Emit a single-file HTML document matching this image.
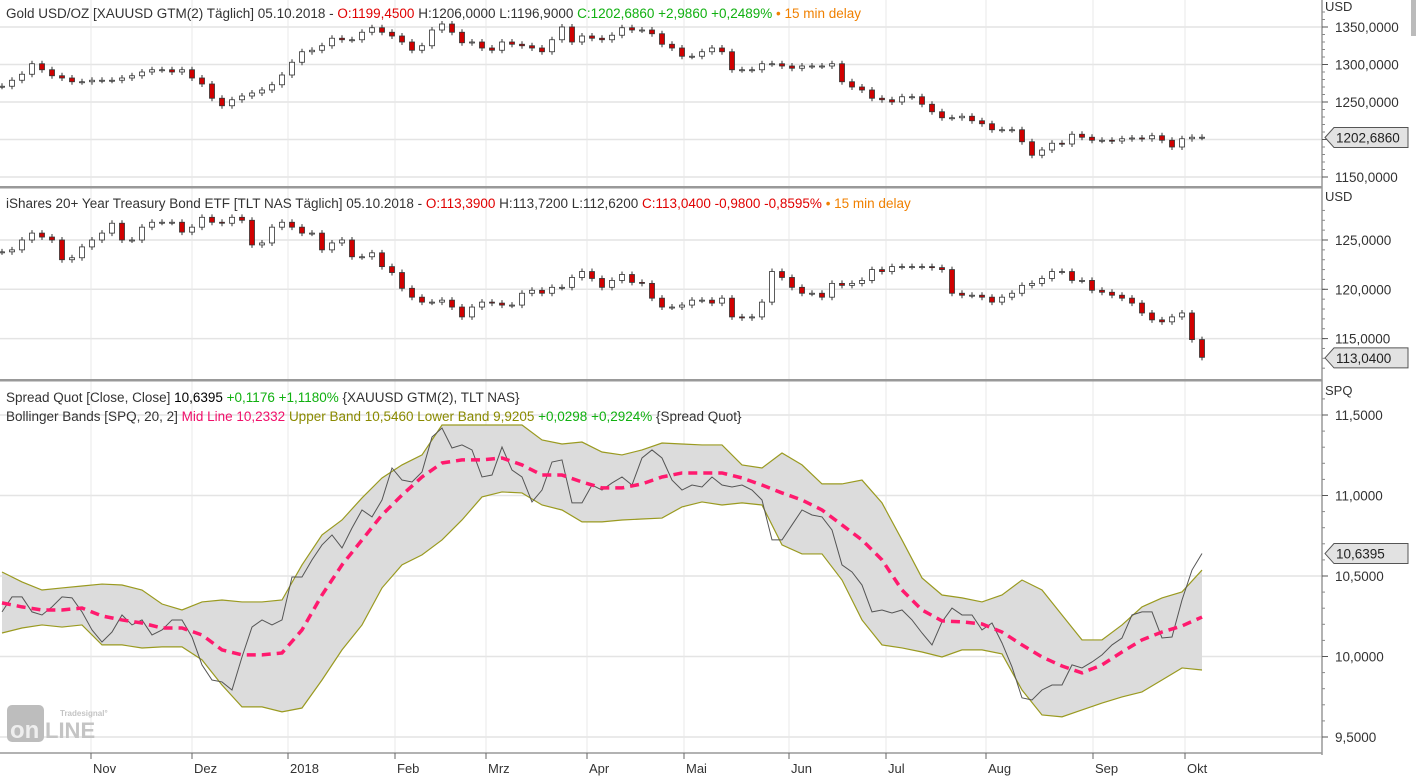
<!DOCTYPE html>
<html><head><meta charset="utf-8">
<style>
html,body{margin:0;padding:0;background:#fff;width:1416px;height:776px;overflow:hidden}
svg{display:block;font-family:"Liberation Sans",Arial,sans-serif}
</style></head>
<body>
<svg id="chart" width="1416" height="776" viewBox="0 0 1416 776" xmlns="http://www.w3.org/2000/svg">
<rect x="0" y="0" width="1416" height="776" fill="#fff"/>
<g id="grid"></g>
<g id="marks"></g>
<g id="axes"></g>
<g font-size="13.5">
<text x="6" y="18"><tspan fill="#333">Gold USD/OZ [XAUUSD GTM(2) Täglich] 05.10.2018 - </tspan><tspan fill="#e00000">O:1199,4500</tspan><tspan fill="#333"> H:1206,0000 L:1196,9000 </tspan><tspan fill="#10b010">C:1202,6860 +2,9860 +0,2489%</tspan><tspan fill="#f08000"> • 15 min delay</tspan></text>
</g>
<g font-size="13.5">
<text x="6" y="208"><tspan fill="#333">iShares 20+ Year Treasury Bond ETF [TLT NAS Täglich] 05.10.2018 - </tspan><tspan fill="#e00000">O:113,3900</tspan><tspan fill="#333"> H:113,7200 L:112,6200 </tspan><tspan fill="#e00000">C:113,0400 -0,9800 -0,8595%</tspan><tspan fill="#f08000"> • 15 min delay</tspan></text>
</g>
<g font-size="13.5">
<text x="6" y="402"><tspan fill="#333">Spread Quot [Close, Close] </tspan><tspan fill="#000">10,6395 </tspan><tspan fill="#10b010">+0,1176 +1,1180% </tspan><tspan fill="#333">{XAUUSD GTM(2), TLT NAS}</tspan></text>
<text x="6" y="421"><tspan fill="#333">Bollinger Bands [SPQ, 20, 2] </tspan><tspan fill="#f0106a">Mid Line 10,2332 </tspan><tspan fill="#8a8a00">Upper Band 10,5460 Lower Band 9,9205 </tspan><tspan fill="#10b010">+0,0298 +0,2924% </tspan><tspan fill="#333">{Spread Quot}</tspan></text>
</g>
<g>
<rect x="7" y="705" width="37" height="37" rx="5" fill="#bdbdbd"/>
<text x="10" y="738" font-size="24" font-weight="bold" fill="#eee">on</text>
<text x="45" y="738" font-size="22" font-weight="bold" fill="#c4c4c4">LINE</text>
<text x="60" y="716" font-size="8" font-weight="bold" fill="#c4c4c4">Tradesignal°</text>
</g>
<rect x="1411" y="0" width="5" height="36" fill="#bbb"/>
</svg>
<script>
// ---- data ----
const goldClose=[1271,1279,1287,1301,1293,1285,1282,1277,1277,1279,1279,1279,1282,1285,1290,1293,1293,1290,1293,1282,1274,1255,1245,1253,1258,1262,1266,1273,1286,1303,1317,1319,1325,1335,1333,1333,1343,1349,1343,1338,1330,1319,1325,1346,1354,1343,1329,1330,1322,1319,1330,1327,1325,1322,1317,1333,1350,1330,1338,1335,1333,1339,1349,1346,1346,1341,1327,1322,1311,1311,1317,1322,1317,1293,1293,1293,1301,1301,1298,1295,1298,1298,1298,1301,1277,1270,1266,1255,1253,1250,1257,1257,1247,1237,1229,1229,1231,1225,1221,1213,1213,1213,1197,1179,1186,1195,1194,1207,1203,1199,1199,1198,1201,1202,1201,1205,1199,1190,1201,1203,1203];
const tltClose=[123.8,124.0,125.0,125.7,125.3,125.0,123.0,123.2,124.3,125.0,125.7,126.7,125.0,125.0,126.3,126.8,126.8,126.8,125.8,126.3,127.3,126.8,126.7,127.3,127.0,124.5,124.7,126.3,126.8,126.3,125.7,125.7,124.0,124.7,125.0,123.3,123.3,123.7,122.3,121.7,120.1,119.2,118.7,118.7,118.9,118.2,117.2,118.2,118.7,118.6,118.4,118.4,119.6,119.9,119.6,120.2,120.2,121.2,121.8,121.1,120.2,120.9,121.5,120.7,120.6,119.1,118.2,118.2,118.4,118.9,118.9,118.6,119.1,117.2,117.1,117.2,118.7,121.8,121.2,120.2,119.6,119.6,119.2,120.6,120.4,120.6,120.9,122.0,121.8,122.3,122.3,122.3,122.3,122.2,122.0,119.6,119.4,119.4,119.2,118.7,119.2,119.6,120.4,120.6,121.1,121.8,121.8,120.9,120.9,119.9,119.7,119.4,119.1,118.6,117.6,116.9,116.7,117.2,117.6,114.9,113.1];
const spread=[10.277,10.370,10.370,10.277,10.258,10.308,10.370,10.364,10.277,10.165,10.090,10.152,10.258,10.196,10.227,10.134,10.165,10.227,10.227,10.121,9.948,9.854,9.842,9.792,9.997,10.183,10.227,10.196,10.227,10.494,10.494,10.600,10.693,10.755,10.674,10.798,10.910,10.867,10.972,11.171,11.096,11.084,11.146,11.363,11.419,11.295,11.314,11.283,11.115,11.127,11.301,11.158,11.115,10.960,11.034,11.208,11.221,10.954,10.954,11.065,11.034,11.078,11.115,11.065,11.233,11.283,11.233,11.096,11.034,11.065,11.053,11.115,11.065,11.053,11.065,11.034,10.972,10.724,10.724,10.817,10.910,10.879,10.867,10.786,10.569,10.525,10.444,10.277,10.289,10.270,10.289,10.227,10.146,10.072,10.215,10.301,10.258,10.258,10.165,10.208,10.084,9.935,9.743,9.730,9.792,9.823,9.823,9.948,9.929,9.966,10.010,10.072,10.115,10.258,10.277,10.277,10.115,10.121,10.351,10.537,10.640];
const upperBand=[10.525,10.463,10.413,10.426,10.438,10.450,10.444,10.413,10.326,10.289,10.339,10.351,10.339,10.339,10.351,10.569,10.755,10.848,10.985,11.109,11.190,11.252,11.438,11.438,11.438,11.438,11.438,11.345,11.320,11.332,11.270,11.252,11.283,11.326,11.320,11.314,11.314,11.190,11.171,11.264,11.190,11.072,11.072,11.096,10.954,10.724,10.488,10.382,10.364,10.339,10.382,10.475,10.413,10.258,10.103,10.103,10.196,10.308,10.364,10.401,10.537];
const lowerBand=[10.146,10.177,10.196,10.183,10.196,10.072,10.072,10.053,10.060,10.060,9.979,9.823,9.687,9.687,9.656,9.680,9.854,10.041,10.196,10.426,10.569,10.631,10.724,10.848,10.991,11.022,11.016,10.941,10.910,10.836,10.836,10.848,10.854,10.860,10.929,10.960,10.941,10.954,10.941,10.693,10.637,10.637,10.475,10.227,10.072,10.053,10.028,9.997,10.041,10.041,10.016,9.792,9.637,9.625,9.668,9.711,9.749,9.780,9.854,9.929,9.916];
const midLine=[10.333,10.308,10.289,10.289,10.301,10.252,10.227,10.208,10.177,10.177,10.134,10.041,10.010,10.010,10.022,10.165,10.382,10.569,10.724,10.879,11.003,11.115,11.202,11.221,11.221,11.233,11.190,11.127,11.127,11.084,11.047,11.047,11.072,11.115,11.140,11.140,11.140,11.109,11.065,11.016,10.972,10.910,10.817,10.724,10.600,10.413,10.289,10.221,10.215,10.202,10.152,10.072,9.997,9.941,9.898,9.948,10.028,10.103,10.152,10.190,10.245];
const monthLabels=["Nov","Dez","2018","Feb","Mrz","Apr","Mai","Jun","Jul","Aug","Sep","Okt"];
const monthStartIdx=[8.9,19.0,28.6,39.3,48.4,58.5,68.2,78.7,88.4,98.4,109.1,118.3];
const goldTicks=[1350,1300,1250,1200,1150];
const goldTickLabels=["1350,0000","1300,0000","1250,0000","","1150,0000"];
const tltTicks=[125,120,115];
const tltTickLabels=["125,0000","120,0000","115,0000"];
const spqTicks=[11.5,11.0,10.5,10.0,9.5];
const spqTickLabels=["11,5000","11,0000","10,5000","10,0000","9,5000"];
const lastGold="1202,6860", lastTlt="113,0400", lastSpq="10,6395";
const lastGoldVal=1202.686, lastTltVal=113.04, lastSpqVal=10.6395;

// ---- scales ----
const NS="http://www.w3.org/2000/svg";
const plotR=1322;
const xIdx=i=>2+i*10;
const xBand=i=>2+i*20;
const yGold=p=>27+(1350-p)*0.75;
const yTlt=p=>240+(125-p)*9.86;
const ySpq=p=>415+(11.5-p)*161;
function mk(tag,attrs,parent){const e=document.createElementNS(NS,tag);for(const k in attrs)e.setAttribute(k,attrs[k]);parent.appendChild(e);return e;}
const grid=document.getElementById('grid'),marks=document.getElementById('marks'),axes=document.getElementById('axes');

// ---- grid ----
function hgrid(ticks,ys,top,bot){ticks.forEach(t=>{const y=ys(t);if(y>top&&y<bot){const l=mk('line',{x1:0,x2:plotR,y1:y,y2:y,stroke:'#e4e4e4','stroke-width':1.5},grid);

}});}
hgrid(goldTicks,yGold,0,186);hgrid(tltTicks,yTlt,188,379);hgrid(spqTicks,ySpq,381,753);
monthStartIdx.forEach(m=>{const x=xIdx(m);const l=mk('line',{x1:x,x2:x,y1:0,y2:753,stroke:'#e8e8e8','stroke-width':1},grid);

});

// ---- candles ----
function candles(close,ys,name){
  for(let i=0;i<close.length;i++){
    const o=i>0?close[i-1]:close[i],c=close[i];const x=xIdx(i);
    const yo=ys(o),yc=ys(c);const top=Math.min(yo,yc),bot=Math.max(yo,yc);
    const g=mk('g',{},marks);
    
    
    mk('line',{x1:x,x2:x,y1:top-3,y2:bot+3,stroke:'#333','stroke-width':1},g);
    mk('rect',{x:x-2.5,y:top,width:5,height:Math.max(1,bot-top),fill:c<o?'#d00000':'#fff',stroke:'#333','stroke-width':0.8},g);
  }
}
candles(goldClose,yGold,'gold');
candles(tltClose,yTlt,'tlt');

// ---- bollinger ----
let up=upperBand.map((v,i)=>xBand(i)+','+ySpq(v));
let lo=lowerBand.map((v,i)=>xBand(i)+','+ySpq(v)).reverse();
const band=mk('polygon',{points:up.concat(lo).join(' '),fill:'#dcdcdc'},marks);


const ub=mk('polyline',{points:up.join(' '),fill:'none',stroke:'#9a9a20','stroke-width':1.2},marks);


const lb=mk('polyline',{points:lowerBand.map((v,i)=>xBand(i)+','+ySpq(v)).join(' '),fill:'none',stroke:'#9a9a20','stroke-width':1.2},marks);


const sl=mk('polyline',{points:spread.map((v,i)=>xIdx(i)+','+ySpq(v)).join(' '),fill:'none',stroke:'#555','stroke-width':1},marks);


const ml=mk('polyline',{points:midLine.map((v,i)=>xBand(i)+','+ySpq(v)).join(' '),fill:'none',stroke:'#ff1a6e','stroke-width':3.5,'stroke-dasharray':'9,6'},marks);



// ---- separators & axes ----
[[186,'panel-separator-1'],[379,'panel-separator-2']].forEach(([y,n])=>{const r=mk('rect',{x:0,y:y,width:plotR,height:2.5,fill:'#999'},axes);

});
const ax=mk('line',{x1:plotR,x2:plotR,y1:0,y2:755,stroke:'#999','stroke-width':1.5},axes);


const xl=mk('line',{x1:0,x2:plotR,y1:753,y2:753,stroke:'#999','stroke-width':1.5},axes);


monthStartIdx.forEach((m,i)=>{const x=xIdx(m);
  const t=mk('line',{x1:x,x2:x,y1:753,y2:759,stroke:'#666'},axes);
  
  
  const tx=mk('text',{x:x+2,y:773,'font-size':13,fill:'#333'},axes);tx.textContent=monthLabels[i];
  
  });
function yaxis(ticks,labels,ys,unit,unitY,minorStep,top,bot){
  const u=mk('text',{x:1325,y:unitY,'font-size':13,fill:'#333'},axes);u.textContent=unit;
  
  
  for(let y=ys(ticks[0]);y<bot;y+=minorStep){if(y>top)mk('line',{x1:plotR,x2:plotR+3,y1:y,y2:y,stroke:'#888'},axes);}
  for(let y=ys(ticks[0]);y>top;y-=minorStep){mk('line',{x1:plotR,x2:plotR+3,y1:y,y2:y,stroke:'#888'},axes);}
  ticks.forEach((t,i)=>{const y=ys(t);mk('line',{x1:plotR,x2:plotR+6,y1:y,y2:y,stroke:'#555'},axes);
    if(labels[i]){const tx=mk('text',{x:1335,y:y+5,'font-size':13.5,fill:'#333'},axes);tx.textContent=labels[i];
    
    }});
}
yaxis(goldTicks,goldTickLabels,yGold,'USD',11,7.5,5,184);
yaxis(tltTicks,tltTickLabels,yTlt,'USD',201,9.86,205,377);
yaxis(spqTicks,spqTickLabels,ySpq,'SPQ',395,16.1,398,751);
function tag(v,label,ys,name,w){const y=ys(v);
  const g=mk('g',{},axes);
  
  
  mk('path',{d:`M${plotR+3},${y} L${plotR+12},${y-10} L${plotR+12+w},${y-10} L${plotR+12+w},${y+10} L${plotR+12},${y+10} Z`,fill:'#e2e2e2',stroke:'#555','stroke-width':1},g);
  const t=mk('text',{x:plotR+14,y:y+5,'font-size':13.5,fill:'#222'},g);t.textContent=label;}
tag(lastGoldVal,lastGold,yGold,'gold-last-price-tag',74);
tag(lastTltVal,lastTlt,yTlt,'tlt-last-price-tag',74);
tag(lastSpqVal,lastSpq,ySpq,'spread-last-value-tag',74);
</script>
</body></html>
